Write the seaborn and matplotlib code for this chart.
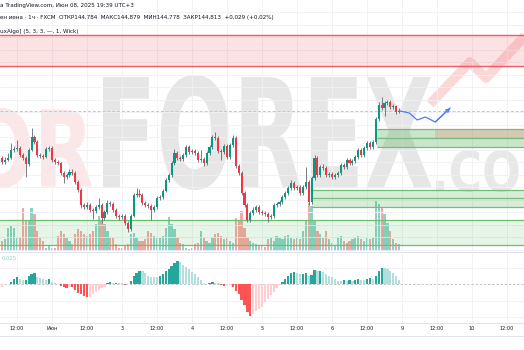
import numpy as np
import pandas as pd
import matplotlib
matplotlib.use("Agg")
import matplotlib.pyplot as plt
import seaborn as sns
from matplotlib.textpath import TextPath
from matplotlib.patches import PathPatch, Rectangle
from matplotlib.font_manager import FontProperties
from matplotlib.transforms import Affine2D, IdentityTransform
from matplotlib.lines import Line2D

# ---------------- data (USDJPY 1h) ----------------
first_open = 143.87
closes = [143.79, 143.83, 143.87, 144.03, 144.05, 144.07, 143.93, 143.87, 143.75, 144.03,
          144.29, 144.19, 143.93, 143.91, 143.89, 144.05, 144.07, 143.83, 143.79, 143.77,
          143.57, 143.49, 143.53, 143.59, 143.57, 143.39, 143.23, 142.93, 142.89, 142.93,
          142.83, 142.81, 142.89, 142.93, 142.67, 142.79, 142.97, 142.95, 142.83, 142.71,
          142.69, 142.71, 142.57, 142.45, 142.71, 143.13, 143.15, 143.13, 142.97, 142.93,
          142.91, 142.83, 142.89, 143.07, 143.09, 143.21, 143.43, 143.53, 143.77, 143.97,
          143.87, 143.85, 143.93, 144.09, 143.99, 144.01, 143.97, 143.83, 143.85, 143.77,
          143.97, 144.09, 144.29, 144.27, 144.01, 143.99, 144.11, 143.89, 144.13, 144.27,
          143.71, 143.57, 143.17, 142.93, 142.63, 142.77, 142.83, 142.89, 142.79, 142.77,
          142.75, 142.69, 142.71, 142.93, 142.95, 142.99, 143.09, 143.17, 143.27, 143.37,
          143.27, 143.29, 143.17, 143.29, 143.39, 142.99, 143.47, 143.87, 143.53, 143.69,
          143.67, 143.53, 143.55, 143.49, 143.53, 143.57, 143.73, 143.69, 143.83, 143.77,
          143.81, 143.89, 144.03, 143.93, 144.07, 144.17, 144.09, 144.19, 144.65, 144.93,
          144.87, 144.97, 144.99, 144.89, 144.91, 144.784, 144.813]
highs = [143.91, 143.89, 143.97, 144.17, 144.11, 144.23, 144.11, 143.97, 143.91, 144.07,
         144.47, 144.33, 144.23, 143.97, 143.95, 144.09, 144.11, 144.11, 143.87, 143.83,
         143.79, 143.61, 143.57, 143.65, 143.65, 143.61, 143.43, 143.27, 142.97, 142.99,
         142.97, 142.87, 142.93, 143.07, 142.97, 142.83, 143.03, 143.01, 142.99, 142.87,
         142.75, 142.75, 142.75, 142.61, 142.75, 143.17, 143.27, 143.25, 143.17, 143.01,
         142.97, 142.95, 142.93, 143.11, 143.13, 143.25, 143.47, 143.57, 143.81, 144.05,
         144.01, 143.91, 143.97, 144.13, 144.13, 144.05, 144.05, 144.01, 144.03, 143.89,
         144.01, 144.13, 144.33, 144.39, 144.31, 144.05, 144.15, 144.15, 144.17, 144.33,
         144.31, 143.75, 143.61, 143.21, 142.97, 142.81, 142.89, 142.93, 142.93, 142.83,
         142.81, 142.79, 142.75, 142.97, 142.99, 143.03, 143.13, 143.21, 143.31, 143.43,
         143.41, 143.33, 143.33, 143.33, 143.69, 143.43, 143.51, 143.93, 143.91, 143.73,
         143.75, 143.71, 143.59, 143.59, 143.57, 143.61, 143.77, 143.77, 143.87, 143.87,
         143.85, 143.93, 144.07, 144.07, 144.11, 144.21, 144.21, 144.23, 144.69, 144.99,
         145.09, 145.01, 145.03, 145.03, 144.95, 144.93, 144.879]
lows = [143.75, 143.75, 143.81, 143.85, 143.99, 144.01, 143.89, 143.83, 143.49, 143.71,
        144.01, 144.15, 143.89, 143.87, 143.85, 143.87, 144.01, 143.79, 143.75, 143.73,
        143.53, 143.37, 143.45, 143.49, 143.53, 143.35, 143.19, 142.87, 142.85, 142.85,
        142.79, 142.65, 142.77, 142.85, 142.57, 142.63, 142.75, 142.91, 142.79, 142.67,
        142.63, 142.65, 142.53, 142.39, 142.41, 142.69, 143.09, 143.09, 142.93, 142.89,
        142.87, 142.63, 142.79, 142.85, 143.03, 143.05, 143.19, 143.39, 143.49, 143.73,
        143.83, 143.81, 143.81, 143.89, 143.95, 143.95, 143.93, 143.79, 143.79, 143.71,
        143.73, 143.93, 144.05, 144.23, 143.97, 143.83, 143.95, 143.85, 143.85, 144.09,
        143.67, 143.53, 143.13, 142.89, 142.59, 142.59, 142.73, 142.79, 142.75, 142.73,
        142.71, 142.59, 142.65, 142.67, 142.89, 142.91, 142.95, 143.05, 143.13, 143.23,
        143.23, 143.23, 143.13, 143.13, 143.25, 142.93, 142.95, 143.43, 143.49, 143.49,
        143.63, 143.49, 143.49, 143.45, 143.45, 143.49, 143.53, 143.65, 143.65, 143.73,
        143.73, 143.77, 143.85, 143.89, 143.89, 144.03, 144.05, 144.05, 144.15, 144.61,
        144.83, 144.71, 144.93, 144.85, 144.85, 144.75, 144.778]
volumes = [1000, 1200, 2300, 2500, 2300, 1300, 1300, 4300, 3000, 3000,
           4300, 3700, 2000, 1300, 1000, 300, 500, 300, 300, 1500,
           2000, 1700, 1300, 1000, 700, 1700, 2200, 2000, 1700, 1500,
           1700, 2000, 2700, 3500, 3000, 2700, 2000, 1300, 1300, 700,
           300, 300, 500, 700, 1700, 1800, 1300, 1000, 1000, 1200,
           2000, 1800, 1500, 1300, 1300, 1500, 2300, 3400, 2700, 2200,
           1300, 800, 700, 300, 200, 300, 700, 800, 2000, 1300,
           1000, 800, 1300, 1700, 1800, 1500, 1200, 1300, 1000, 800,
           3300, 3000, 4000, 2300, 1300, 1000, 800, 700, 500, 500,
           400, 1200, 1300, 1000, 1500, 1300, 1200, 1500, 1600, 1300,
           1200, 1300, 1200, 2000, 3000, 4800, 4500, 3000, 2000, 1700,
           1300, 2000, 1200, 800, 500, 1300, 1500, 1000, 800, 1000,
           1200, 1300, 1500, 1200, 1000, 1300, 1200, 1300, 5000, 4700,
           4300, 3700, 2800, 2000, 1200, 800, 700]
# oscillator histogram, in thousandths
hist_milli = [-3, -1, 0.5, 2.5, 5, 7, 5, 4, 4.5, 8,
              10, 11, 7, 6, 5, 4, 5, 2, 1, 0.3,
              -2, -3, -3.5, -3, -3.2, -6, -9, -10, -12, -13,
              -12.5, -10, -7.5, -6, -4, -3, 0.8, 2, 1, 1.3,
              1, 0.8, -0.8, 0.5, 3, 8, 11, 13, 12.8, 11,
              8.5, 7.5, 7, 6.8, 8, 10, 13, 15.5, 18, 21,
              23, 22, 19.5, 17.5, 15, 12.5, 10, 7, 4, 1.5,
              0.5, 1, 1.8, 1.2, 0.6, -1, -1.5, -1.2, -1, -3,
              -7, -10, -16, -21, -28, -32, -30, -27, -25, -23,
              -18, -15, -11, -7.5, -4, -1, 2, 5, 8, 11,
              12.3, 11.2, 10, 10.2, 11, 8.5, 9, 14, 13.2, 13.4,
              12.5, 10.5, 8, 7, 5, 3.5, 3, 4, 3.2, 4,
              3.3, 4, 5, 4.2, 4, 5, 6, 5, 8, 13.5,
              16, 15.8, 15, 13, 11, 8, 4]

# zones (prices)
supply_zone = (145.71, 146.33)
zone_a = (144.09, 144.27, 144.45)    # starts at candle 128
zone_b = (142.89, 143.07, 143.23)    # starts at candle 106
zone_c = (142.13, 142.63)
zone_a_start, zone_b_start = 128.3, 106.2
overlap_start = 148.3
proj_x = [136, 139.5, 142.2, 145.0, 148.4, 153.5]
proj_y = [144.813, 144.77, 144.63, 144.69, 144.59, 144.87]
last_price = 144.813

tick_pos = [5, 17, 29, 41, 53, 65, 77, 89, 101, 113, 125, 137, 149, 161, 173]
tick_lbl = ["12:00", "Июн", "12:00", "3", "12:00", "4", "12:00", "5", "12:00", "6",
            "12:00", "9", "12:00", "10", "12:00"]

# ---------------- figure ----------------
sns.set_theme(style="white")
plt.rcParams['font.family'] = ['DejaVu Sans']

W, H = 524, 350
fig = plt.figure(figsize=(W / 100, H / 100), dpi=100, facecolor='white')


def pane(top, bottom):
    return fig.add_axes([0, 1 - bottom / H, 1, (bottom - top) / H])


ax_v = pane(0, 251)
ax_p = pane(0, 251)
ax_i = pane(252, 322)
ax_v.set_zorder(1)
ax_p.set_zorder(2)
ax_p.set_facecolor('none')

X0, X1 = -0.823, 178.82
P0, P1 = 142.01, 147.03

n = len(closes)
idx = np.arange(n)
c = np.array(closes)
o = np.array([first_open] + closes[:-1])
o[-1] = 144.784
up = c >= o
UP, DN = '#089981', '#f23645'


def fit_text(ax, s, x0, y0, x1, y1, color, z=0.1):
    tp = TextPath((0, 0), s, size=100, prop=FontProperties(family='DejaVu Sans', weight='bold'))
    bb = tp.get_extents()
    tr = (Affine2D().translate(-bb.x0, -bb.y0)
          .scale((x1 - x0) / bb.width, (y1 - y0) / bb.height)
          .translate(x0, H - y1))
    patch = PathPatch(tp, transform=tr + IdentityTransform(), facecolor=color,
                      edgecolor='none', zorder=z)
    ax.add_artist(patch)


# watermark (behind everything)
fit_text(ax_v, "OR", -28, 108, 92, 188, '#fbe7e7')
fit_text(ax_v, "FOREX", 103, 75, 432, 190, '#e6e6e6')
fit_text(ax_v, ".COM", 436, 150, 562, 192, '#e8e8e8')
ax_v.add_artist(Line2D([430, 470, 486, 535], [H - 104, H - 62, H - 78, H - 25],
                       transform=IdentityTransform(), color='#fbd8d8', lw=7,
                       solid_capstyle='butt', zorder=0.2))

# volume (seaborn)
vdf = pd.DataFrame({'i': idx, 'vol': volumes, 'dir': np.where(up, 'up', 'down')})
sns.barplot(data=vdf, x='i', y='vol', hue='dir',
            palette={'up': '#8dd2c7', 'down': '#f5a7a6'},
            native_scale=True, dodge=False, width=0.75, saturation=1,
            legend=False, errorbar=None, linewidth=0, ax=ax_v)
ax_v.set_xlim(X0, X1)
ax_v.set_ylim(0, 25100)
ax_v.axis('off')

# grid
for gp in [146.79 - 0.25 * k for k in range(20)]:
    ax_p.axhline(gp, color='#eef0f4', lw=0.6, zorder=0.3)
for t in tick_pos:
    ax_p.axvline(t, color='#eef0f4', lw=0.6, zorder=0.3)
    ax_i.axvline(t, color='#eef0f4', lw=0.6, zorder=0.3)

# zones
ax_p.add_patch(Rectangle((X0, supply_zone[0]), X1 - X0, supply_zone[1] - supply_zone[0],
                         color='#f23645', alpha=0.14, lw=0, zorder=1))
for y in supply_zone:
    ax_p.axhline(y, color='#ef5a64', lw=1.0, zorder=1.2)

ax_p.add_patch(Rectangle((X0, zone_c[0]), X1 - X0, zone_c[1] - zone_c[0],
                         color='#4caf50', alpha=0.13, lw=0, zorder=1))
for y in zone_c:
    ax_p.axhline(y, color='#6cc06c', lw=0.9, zorder=1.2)

ax_p.add_patch(Rectangle((zone_b_start, zone_b[0]), X1 - zone_b_start, zone_b[2] - zone_b[0],
                         color='#4caf50', alpha=0.22, lw=0, zorder=1))
for y in zone_b:
    ax_p.hlines(y, zone_b_start, X1, color='#74bd74', lw=0.9, zorder=1.2)

ax_p.add_patch(Rectangle((zone_a_start, zone_a[0]), X1 - zone_a_start, zone_a[2] - zone_a[0],
                         color='#4caf50', alpha=0.3, lw=0, zorder=1))
ax_p.add_patch(Rectangle((overlap_start, zone_a[1]), X1 - overlap_start, zone_a[2] - zone_a[1],
                         color='#e0a090', alpha=0.4, lw=0, zorder=1.1))
for y in zone_a:
    ax_p.hlines(y, zone_a_start, X1, color='#7cb87c', lw=0.9, zorder=1.2)

# current price line
ax_p.axhline(last_price, color='#9fd8cf', lw=0.7, ls=(0, (3, 2)), zorder=1.5)

# candles
ax_p.vlines(idx, lows, highs, colors='#626673', lw=0.6, zorder=4)
body_lo = np.minimum(o, c)
body_h = np.maximum(np.abs(c - o), 0.008)
ax_p.bar(idx, body_h, bottom=body_lo, width=0.7, color=np.where(up, UP, DN), lw=0, zorder=5)

# projection
ax_p.plot(proj_x, proj_y, color='#4f7df0', lw=0.9, zorder=6)
ax_p.annotate('', xy=(proj_x[-1], proj_y[-1]), xytext=(proj_x[-2], proj_y[-2]),
              arrowprops=dict(arrowstyle='->', color='#4f7df0', lw=0.9,
                              mutation_scale=6, shrinkA=0, shrinkB=0), zorder=6)

ax_p.set_xlim(X0, X1)
ax_p.set_ylim(P0, P1)
ax_p.axis('off')

# oscillator histogram (seaborn)
hv = np.array(hist_milli) / 1000.0
prev = np.concatenate([[hv[0] - 0.001], hv[:-1]])
cats = np.where(hv >= 0, np.where(hv >= prev, 'pu', 'pd'), np.where(hv <= prev, 'nd', 'nu'))
hdf = pd.DataFrame({'i': idx, 'v': hv, 'c': cats})
ax_i.axhline(0, color='#b8bbc4', lw=0.6, ls=(0, (3, 2)), zorder=0.5)
for gy in [0.0165, -0.0165, -0.033]:
    ax_i.axhline(gy, color='#eef0f4', lw=0.6, zorder=0.3)
sns.barplot(data=hdf, x='i', y='v', hue='c',
            palette={'pu': '#26a69a', 'pd': '#b2dfdb', 'nd': '#ff5252', 'nu': '#ffcdd2'},
            native_scale=True, dodge=False, width=0.75, saturation=1,
            legend=False, errorbar=None, linewidth=0, ax=ax_i)
ax_i.set_xlim(X0, X1)
ax_i.set_ylim(-0.038, 0.032)
ax_i.axis('off')

# separators
for py in (251.5, 322.5, 335.5):
    fig.add_artist(Line2D([0, 1], [1 - py / H, 1 - py / H], transform=fig.transFigure,
                          color='#e0e3eb', lw=0.7))

# texts
tc = '#131722'
fig.text(0, 1 - 6 / H, "а TradingView.com, Июн 08, 2025 19:39 UTC+3", fontsize=4.1,
         color=tc, va='center', ha='left')
fig.text(0, 1 - 17 / H, "ен иена · 1ч · FXCM  ОТКР144,784  МАКС144,879  МИН144,778  "
         "ЗАКР144,813  +0,029 (+0,02%)", fontsize=4.1, color=tc, va='center', ha='left')
fig.text(0, 1 - 32 / H, "uxAlgo] (5, 3, 3, —, 1, Wick)", fontsize=4.1,
         color=tc, va='center', ha='left')
fig.text(1.5 / W, 1 - 258 / H, "0,025", fontsize=3.8, color='#8fd1c6', va='center', ha='left')

for t, lab in zip(tick_pos, tick_lbl):
    px = 2.4 + 2.917 * t
    fig.text(px / W, 1 - 329 / H, lab, fontsize=3.6, color=tc, va='center', ha='center')

fig.savefig('out.png', dpi=100, facecolor='white')
